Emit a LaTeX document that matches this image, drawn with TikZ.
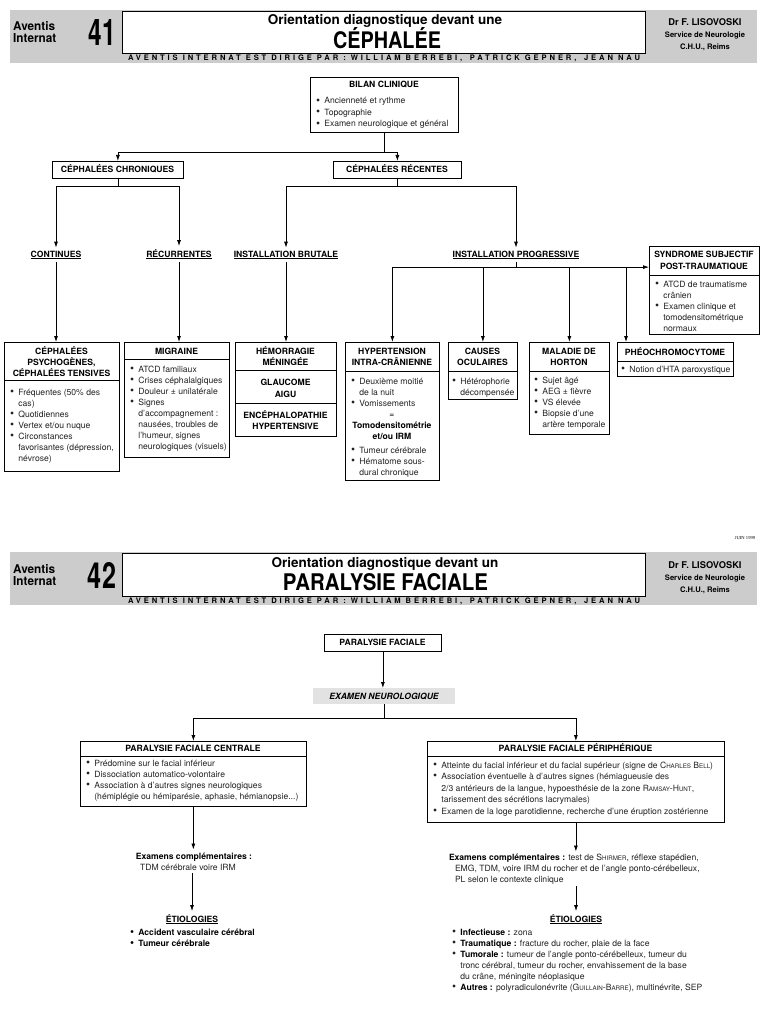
\documentclass[tikz,border=0pt]{standalone}
\usepackage{graphicx}
\usepackage{fontspec}
\setmainfont{TeX Gyre Heros}
\newfontfamily\serifjuin{Liberation Serif}
\usetikzlibrary{arrows.meta}
\definecolor{hdr}{RGB}{204,204,204}
\definecolor{exm}{RGB}{226,226,226}
\definecolor{txt}{RGB}{35,35,35}
\newcommand\bu{\makebox[0.95em][l]{\raisebox{-0.05ex}{\scalebox{1.35}{•}}}}
\newcommand\ii{\hspace*{0.95em}}
\newcommand\smc[1]{{\fontsize{6.2}{6}\selectfont #1}}
\newcommand\Lt[1]{{\let\\\cr\vtop{\halign{##\hfil\cr#1\crcr}}}}
\newcommand\Ct[1]{{\let\\\cr\vtop{\halign{\hfil##\hfil\cr#1\crcr}}}}
\begin{document}
\begin{tikzpicture}[x=1pt,y=-1pt,
  bx/.style={draw, line width=0.75pt, anchor=north west, inner sep=0pt},
  ln/.style={line width=0.75pt},
  ar/.style={line width=0.75pt, -{Latex[length=6pt,width=4pt]}},
  tb/.style={anchor=base, inner sep=0pt, font=\fontsize{8.6}{11.5}\selectfont\bfseries},
  bl/.style={anchor=base west, inner sep=0pt, text=txt, font=\fontsize{8.6}{11}\selectfont},
  blb/.style={bl, text=black, font=\fontsize{8.6}{11}\selectfont\bfseries},
  lab/.style={anchor=base, inner sep=0pt, outer sep=3pt, font=\fontsize{8.6}{11}\selectfont\bfseries},
  hbox/.style={draw, line width=0.6pt, fill=white, anchor=north west, inner sep=0pt, minimum width=523pt, minimum height=42pt},
  hx/.style={anchor=base, inner sep=0pt, font=\bfseries},
]
\useasboundingbox (0,0) rectangle (768,1024);
\fill[white] (0,0) rectangle (768,1024);

% ================= HEADER 41 =================
\fill[hdr] (10,10) rectangle (757,63);
\node[hbox] (h1box) at (122,11) {};
\node[hx, anchor=base west] (h1av) at (13,31) {\resizebox{42pt}{9pt}{Aventis}};
\node[hx, anchor=base west] (h1in) at (13,43) {\resizebox{43pt}{9pt}{Internat}};
\node[hx] (h1num) at (102,46) {\resizebox{27pt}{26pt}{41}};
\node[hx, font=\fontsize{13.5}{14}\selectfont\bfseries] (h1t) at (385,25) {Orientation diagnostique devant une};
\node[hx] (h1T) at (387,49) {\resizebox{108pt}{21pt}{CÉPHALÉE}};
\node[hx, font=\fontsize{9.3}{10}\selectfont\bfseries] (h1dr) at (705,25.5) {Dr F. LISOVOSKI};
\node[hx, font=\fontsize{7.6}{8}\selectfont\bfseries] (h1sv) at (705,38) {Service de Neurologie};
\node[hx, font=\fontsize{7.6}{8}\selectfont\bfseries] (h1ch) at (705,50) {C.H.U., Reims};
\node[hx] (h1sub) at (384,61) {\resizebox{512pt}{7pt}{\addfontfeature{LetterSpace=38}AVENTIS INTERNAT EST DIRIGÉ PAR : WILLIAM BERREBI,\quad PATRICK GEPNER,\quad JEAN NAU}};

% ================= DIAGRAM 41 =================
\node[bx, minimum width=148pt, minimum height=55pt] (bilan) at (310,77) {};
\node[tb] (bilanT) at (384,88) {BILAN CLINIQUE};
\node[bl, font=\fontsize{8.6}{11.5}\selectfont] (bilanB) at (316,104) {\Lt{\bu Ancienneté et rythme\\\bu Topographie\\\bu Examen neurologique et général}};

\node[bx, minimum width=131pt, minimum height=17pt] (chr) at (52,161) {};
\node[tb] (chrT) at (117.5,173) {CÉPHALÉES CHRONIQUES};
\node[bx, minimum width=128pt, minimum height=17pt] (rec) at (333,161) {};
\node[tb] (recT) at (397,173) {CÉPHALÉES RÉCENTES};

\node[lab] (cont) at (56,257) {\underline{CONTINUES}};
\node[lab] (recu) at (179,257) {\underline{RÉCURRENTES}};
\node[lab] (brut) at (286,257) {\underline{INSTALLATION BRUTALE}};
\node[lab] (prog) at (516,257) {\underline{INSTALLATION PROGRESSIVE}};

% syndrome subjectif
\node[bx, minimum width=110pt, minimum height=88pt] (synd) at (649,246) {};
\node[tb] (syndT) at (704,258) {\Ct{SYNDROME SUBJECTIF\\POST-TRAUMATIQUE}};
\draw[ln] (649,275) -- (759,275);
\node[bl] (syndB) at (655,287) {\Lt{\bu ATCD de traumatisme\\\ii crânien\\\bu Examen clinique et\\\ii tomodensitométrique\\\ii normaux}};

% bottom row
\node[bx, minimum width=115pt, minimum height=129pt] (psy) at (4,342) {};
\node[tb, font=\fontsize{8.6}{11}\selectfont\bfseries] (psyT) at (61.5,354) {\Ct{CÉPHALÉES\\PSYCHOGÈNES,\\CÉPHALÉES TENSIVES}};
\draw[ln] (4,380) -- (119,380);
\node[bl] (psyB) at (10,395) {\Lt{\bu Fréquentes (50\% des\\\ii cas)\\\bu Quotidiennes\\\bu Vertex et/ou nuque\\\bu Circonstances\\\ii favorisantes (dépression,\\\ii névrose)}};

\node[bx, minimum width=105pt, minimum height=115pt] (mig) at (124,342) {};
\node[tb] (migT) at (176.5,354) {MIGRAINE};
\draw[ln] (124,359) -- (229,359);
\node[bl] (migB) at (130,372) {\Lt{\bu ATCD familiaux\\\bu Crises céphalalgiques\\\bu Douleur ± unilatérale\\\bu Signes\\\ii d’accompagnement :\\\ii nausées, troubles de\\\ii l’humeur, signes\\\ii neurologiques (visuels)}};

\node[bx, minimum width=101pt, minimum height=94pt] (hem) at (235,342) {};
\node[tb, font=\fontsize{8.6}{11.5}\selectfont\bfseries] (hemT) at (285.5,354) {\Ct{HÉMORRAGIE\\MÉNINGÉE}};
\draw[ln] (235,370) -- (336,370);
\node[tb, font=\fontsize{8.6}{11.5}\selectfont\bfseries] (glaT) at (285.5,385.5) {\Ct{GLAUCOME\\AIGU}};
\draw[ln] (235,403) -- (336,403);
\node[tb, font=\fontsize{8.6}{11.5}\selectfont\bfseries] (encT) at (285.5,418) {\Ct{ENCÉPHALOPATHIE\\HYPERTENSIVE}};

\node[bx, minimum width=94pt, minimum height=138pt] (hta) at (345,342) {};
\node[tb] (htaT) at (392,354) {\Ct{HYPERTENSION\\INTRA-CRÂNIENNE}};
\draw[ln] (345,371) -- (439,371);
\node[bl] (htaB1) at (351,384) {\Lt{\bu Deuxième moitié\\\ii de la nuit\\\bu Vomissements}};
\node[tb, font=\fontsize{8.6}{11}\selectfont] (htaEq) at (392,417) {=};
\node[tb, font=\fontsize{8.6}{11}\selectfont\bfseries] (htaTo) at (392,428) {\Ct{Tomodensitométrie\\et/ou IRM}};
\node[bl] (htaB2) at (351,453) {\Lt{\bu Tumeur cérébrale\\\bu Hématome sous-\\\ii dural chronique}};

\node[bx, minimum width=69pt, minimum height=57pt] (cau) at (448,342) {};
\node[tb] (cauT) at (482.5,354) {\Ct{CAUSES\\OCULAIRES}};
\draw[ln] (448,371) -- (517,371);
\node[bl] (cauB) at (452,384) {\Lt{\bu Hétérophorie\\\ii décompensée}};

\node[bx, minimum width=80pt, minimum height=92pt] (hor) at (529,342) {};
\node[tb] (horT) at (569,354) {\Ct{MALADIE DE\\HORTON}};
\draw[ln] (529,371) -- (609,371);
\node[bl] (horB) at (534,383) {\Lt{\bu Sujet âgé\\\bu AEG ± fièvre\\\bu VS élevée\\\bu Biopsie d’une\\\ii artère temporale}};

\node[bx, minimum width=116pt, minimum height=34pt] (phe) at (617,342) {};
\node[tb] (pheT) at (675,355) {PHÉOCHROMOCYTOME};
\draw[ln] (617,361) -- (733,361);
\node[bl] (pheB) at (621,372) {\bu Notion d’HTA paroxystique};

% connectors 41
\draw[ln] (bilan.south) -- ++(0,20) coordinate (j1);
\draw[ar] (j1) -| (chr.north);
\draw[ar] (j1) -| (rec.north);
\draw[ln] (chr.south) -- ++(0,8) coordinate (j2);
\draw[ar] (j2) -| (cont.north);
\draw[ar] (j2) -| (recu.north);
\draw[ln] (rec.south) -- ++(0,8) coordinate (j3);
\draw[ar] (j3) -| (brut.north);
\draw[ar] (j3) -| (prog.north);
\draw[ar] (cont.south) -- (psy.north -| cont.south);
\draw[ar] (recu.south) -- (mig.north -| recu.south);
\draw[ar] (brut.south) -- (hem.north -| brut.south);
\draw[ln] (prog.south) -- ++(0,5) coordinate (j4);
\draw[ar] (hta.north |- j4) -- (synd.west |- j4);
\draw[ar] (hta.north |- j4) -- (hta.north);
\draw[ar] (cau.north |- j4) -- (cau.north);
\draw[ar] (hor.north |- j4) -- (hor.north);
\coordinate (pheIn) at ([xshift=9pt]phe.north west);
\draw[ar] (pheIn |- j4) -- (pheIn);

\node[anchor=base, inner sep=0pt, font=\serifjuin\fontsize{4.6}{5}\selectfont] (juin) at (745,539) {JUIN 1999};

% ================= HEADER 42 =================
\fill[hdr] (10,552) rectangle (757,605);
\node[hbox, minimum height=43pt] (h2box) at (122,553) {};
\node[hx, anchor=base west] (h2av) at (13,573) {\resizebox{42pt}{9pt}{Aventis}};
\node[hx, anchor=base west] (h2in) at (13,585) {\resizebox{43pt}{9pt}{Internat}};
\node[hx] (h2num) at (102,588) {\resizebox{28pt}{26pt}{42}};
\node[hx, font=\fontsize{13.5}{14}\selectfont\bfseries] (h2t) at (385,567) {Orientation diagnostique devant un};
\node[hx] (h2T) at (385.5,590) {\resizebox{205pt}{17pt}{PARALYSIE FACIALE}};
\node[hx, font=\fontsize{9.3}{10}\selectfont\bfseries] (h2dr) at (705,568) {Dr F. LISOVOSKI};
\node[hx, font=\fontsize{7.6}{8}\selectfont\bfseries] (h2sv) at (705,580.5) {Service de Neurologie};
\node[hx, font=\fontsize{7.6}{8}\selectfont\bfseries] (h2ch) at (705,592.5) {C.H.U., Reims};
\node[hx] (h2sub) at (384,603) {\resizebox{512pt}{7pt}{\addfontfeature{LetterSpace=38}AVENTIS INTERNAT EST DIRIGÉ PAR : WILLIAM BERREBI,\quad PATRICK GEPNER,\quad JEAN NAU}};

% ================= DIAGRAM 42 =================
\node[bx, minimum width=117pt, minimum height=17pt] (pf) at (324,634) {};
\node[tb] (pfT) at (382.5,645.5) {PARALYSIE FACIALE};
\node[anchor=north west, fill=exm, inner sep=0pt, minimum width=142pt, minimum height=16pt] (exam) at (313,688) {};
\node[tb, font=\fontsize{8.6}{11}\selectfont\bfseries\itshape] (examT) at (384,699) {EXAMEN NEUROLOGIQUE};
\draw[ar] (pf.south) -- (exam.north -| pf.south);
\draw[ln] (exam.south) -- ++(0,14) coordinate (j5);

\node[bx, minimum width=226pt, minimum height=65pt] (cen) at (80,741) {};
\node[tb] (cenT) at (193,751.5) {PARALYSIE FACIALE CENTRALE};
\draw[ln] (80,756) -- (306,756);
\node[bl] (cenB) at (86,766) {\Lt{\bu Prédomine sur le facial inférieur\\\bu Dissociation automatico-volontaire\\\bu Association à d’autres signes neurologiques\\\ii (hémiplégie ou hémiparésie, aphasie, hémianopsie...)}};

\node[bx, minimum width=297pt, minimum height=81pt] (per) at (427,741) {};
\node[tb] (perT) at (575.5,751.5) {PARALYSIE FACIALE PÉRIPHÉRIQUE};
\draw[ln] (427,756) -- (724,756);
\node[bl, font=\fontsize{8.6}{11.5}\selectfont] (perB) at (433,768) {\Lt{\bu Atteinte du facial inférieur et du facial supérieur (signe de C\smc{HARLES} B\smc{ELL})\\\bu Association éventuelle à d’autres signes (hémiagueusie des\\\ii 2/3 antérieurs de la langue, hypoesthésie de la zone R\smc{AMSAY}-H\smc{UNT},\\\ii tarissement des sécrétions lacrymales)\\\bu Examen de la loge parotidienne, recherche d’une éruption zostérienne}};

\draw[ar] (j5) -| (cen.north);
\draw[ar] (j5) -| (per.north);

% left column
\node[tb, inner sep=1pt, outer sep=2pt, font=\fontsize{8.6}{11}\selectfont\bfseries] (exc) at (194,859) {Examens complémentaires :};
\node[tb, inner sep=1pt, outer sep=2pt, font=\fontsize{8.6}{11}\selectfont, text=txt] (tdm) at (188,870) {TDM cérébrale voire IRM};
\node[lab] (eti1) at (192,922) {\underline{ÉTIOLOGIES}};
\node[blb] (etiB1) at (130,935) {\Lt{\bu Accident vasculaire cérébral\\\bu Tumeur cérébrale}};
\draw[ar] (cen.south) -- (exc.north -| cen.south);
\draw[ar] (tdm.south -| eti1.north) -- (eti1.north);

% right column
\node[bl, outer sep=2pt] (exp) at (447,860) {\Lt{\textcolor{black}{\bfseries Examens complémentaires :} test de S\smc{HIRMER}, réflexe stapédien,\\\hspace*{6pt}EMG, TDM, voire IRM du rocher et de l’angle ponto-cérébelleux,\\\hspace*{6pt}PL selon le contexte clinique}};
\node[lab] (eti2) at (576,922) {\underline{ÉTIOLOGIES}};
\node[bl] (etiB2) at (452,935) {\Lt{\bu \textcolor{black}{\bfseries Infectieuse :} zona\\\bu \textcolor{black}{\bfseries Traumatique :} fracture du rocher, plaie de la face\\\bu \textcolor{black}{\bfseries Tumorale :} tumeur de l’angle ponto-cérébelleux, tumeur du\\\ii tronc cérébral, tumeur du rocher, envahissement de la base\\\ii du crâne, méningite néoplasique\\\bu \textcolor{black}{\bfseries Autres :} polyradiculonévrite (G\smc{UILLAIN}-B\smc{ARRE}), multinévrite, SEP}};
\coordinate (plEnd) at (576,886);
\draw[ar] (per.south) -- (per.south |- exp.north);
\draw[ar, black] (plEnd) -- (eti2.north);
\end{tikzpicture}
\end{document}
